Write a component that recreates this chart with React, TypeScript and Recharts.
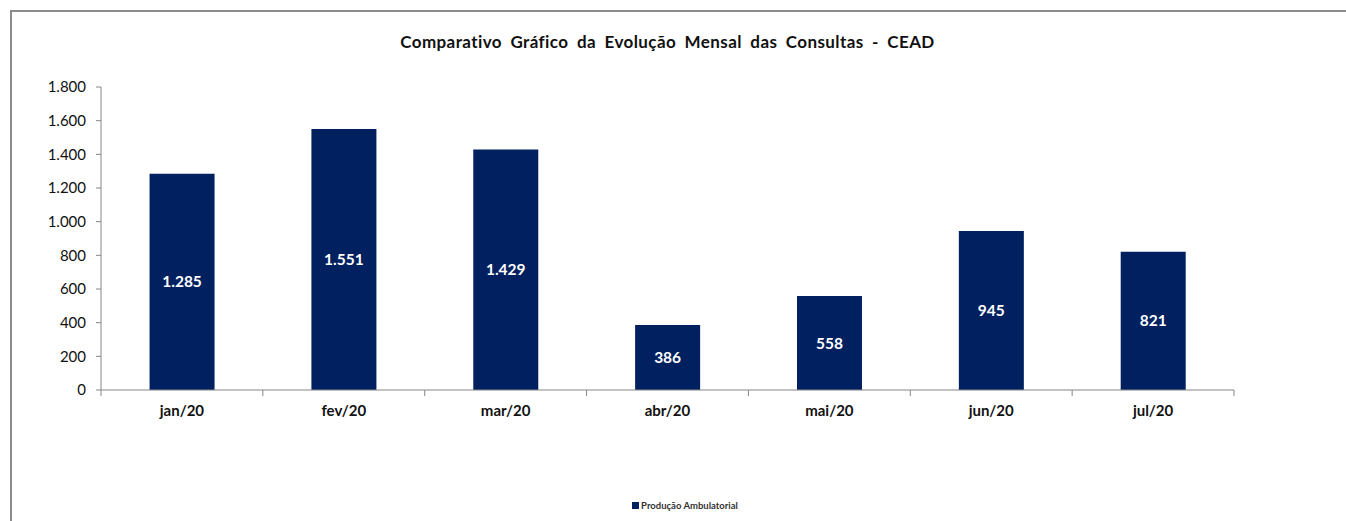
import { Bar, BarChart, LabelList, Legend, XAxis, YAxis } from "recharts";

const months = ["jan/20", "fev/20", "mar/20", "abr/20", "mai/20", "jun/20", "jul/20"];
const consultas = [1285, 1551, 1429, 386, 558, 945, 821];
const yTicks = [0, 200, 400, 600, 800, 1000, 1200, 1400, 1600, 1800];

const data = months.map((month, i) => ({ month, value: consultas[i] }));

const fmt = (v: number) => v.toLocaleString("pt-BR");

const font = "Lato, 'Noto Sans', sans-serif";

const W = 1346;
const H = 521;
const margin = { top: 87, right: 112, left: 0, bottom: 83 };
const yAxisWidth = 101;
const bandWidth = (W - margin.left - margin.right - yAxisWidth) / months.length;
const TICK_OFFSET = 8; // recharts puts tick y below the axis line by tickSize + margin

// category label plus tick marks on the category boundaries, like Excel
const MonthTick = (props: any) => {
  const { x, y, payload, index } = props;
  const half = bandWidth / 2;
  const axisY = y - TICK_OFFSET;
  return (
    <g>
      <line x1={x - half} x2={x - half} y1={axisY} y2={axisY + 6} stroke="#868686" />
      {index === months.length - 1 && (
        <line x1={x + half} x2={x + half} y1={axisY} y2={axisY + 6} stroke="#868686" />
      )}
      <text
        x={x}
        y={y + 18}
        textAnchor="middle"
        fill="#111"
        fontFamily={font}
        fontWeight={700}
        fontSize={15}
      >
        {payload.value}
      </text>
    </g>
  );
};

const LegendContent = () => (
  <div
    style={{
      display: "flex",
      justifyContent: "center",
      alignItems: "center",
      fontFamily: font,
      fontSize: 9.5,
      fontWeight: 700,
      color: "#333",
      paddingLeft: 136,
    }}
  >
    <span
      style={{
        display: "inline-block",
        width: 7,
        height: 7,
        background: "#002060",
        marginRight: 2,
      }}
    />
    Produção Ambulatorial
  </div>
);

const App = () => {
  return (
    <div
      style={{
        position: "absolute",
        left: 0,
        top: 0,
        width: W,
        height: H,
        background: "#fff",
        overflow: "hidden",
      }}
    >
      <div
        style={{
          position: "absolute",
          left: 10,
          top: 10,
          width: 1400,
          height: 600,
          borderTop: "2px solid #8c8c8c",
          borderLeft: "2px solid #8c8c8c",
        }}
      />
      <div
        style={{
          position: "absolute",
          left: 101,
          width: 1133,
          top: 31,
          textAlign: "center",
          fontFamily: font,
          fontWeight: 700,
          fontSize: 17,
          letterSpacing: 0.4,
          wordSpacing: 4,
          color: "#111",
        }}
      >
        Comparativo Gráfico da Evolução Mensal das Consultas - CEAD
      </div>
      <div style={{ position: "absolute", left: 0, top: 0 }}>
        <BarChart
          width={W}
          height={H}
          data={data}
          margin={margin}
          barCategoryGap="30%"
        >
          <XAxis
            dataKey="month"
            height={30}
            stroke="#868686"
            tickLine={false}
            interval={0}
            tick={<MonthTick />}
          />
          <YAxis
            width={yAxisWidth}
            domain={[0, 1800]}
            ticks={yTicks}
            interval={0}
            stroke="#868686"
            tickSize={5}
            tickMargin={10}
            tickFormatter={fmt}
            tick={{ fill: "#111", fontFamily: font, fontSize: 15 }}
          />
          <Legend
            verticalAlign="bottom"
            height={18}
            content={<LegendContent />}
            wrapperStyle={{ bottom: 3 }}
          />
          <Bar dataKey="value" fill="#002060" isAnimationActive={false}>
            <LabelList
              dataKey="value"
              position="center"
              formatter={(v: any) => fmt(Number(v))}
              fill="#fff"
              style={{ fontFamily: font, fontWeight: 700, fontSize: 15.5 }}
            />
          </Bar>
        </BarChart>
      </div>
    </div>
  );
};

export default App;
